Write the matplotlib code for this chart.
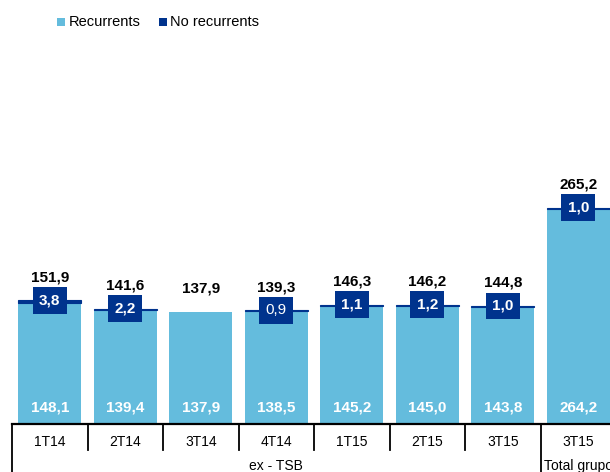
import matplotlib
matplotlib.use("Agg")
import matplotlib.pyplot as plt
from matplotlib.patches import Rectangle

plt.rcParams['font.family'] = ['Liberation Sans', 'DejaVu Sans']

categories = ['1T14', '2T14', '3T14', '4T14', '1T15', '2T15', '3T15', '3T15']
groups = ['ex - TSB', 'Total grupo']
group_sizes = [7, 1]
recurrents = [148.1, 139.4, 137.9, 138.5, 145.2, 145.0, 143.8, 264.2]
no_recurrents = [3.8, 2.2, 0.0, 0.9, 1.1, 1.2, 1.0, 1.0]
totals = [151.9, 141.6, 137.9, 139.3, 146.3, 146.2, 144.8, 265.2]
series_names = ['Recurrents', 'No recurrents']

LIGHT = '#64BCDD'
DARK = '#00338D'

W, H = 610, 472
fig = plt.figure(figsize=(W / 100, H / 100), dpi=100)
px_left, px_right, px_bottom = 12, 616, 424
ax = fig.add_axes([px_left / W, (H - px_bottom) / H, (px_right - px_left) / W, px_bottom / H])
ax.set_xlim(-0.5, len(categories) - 0.5)
ax.set_ylim(0, px_bottom / 0.815)

x = list(range(len(categories)))
bw = 0.83
ax.bar(x, recurrents, width=bw, color=LIGHT, edgecolor='none', zorder=2)
for xi, r, n in zip(x, recurrents, no_recurrents):
    if n > 0:
        ax.bar(xi, n, bottom=r, width=bw, color=DARK, edgecolor=DARK, linewidth=0.8, zorder=3)

for i, (xi, r, n, t) in enumerate(zip(x, recurrents, no_recurrents, totals)):
    lab = lambda v: f"{v:.1f}".replace('.', ',')
    ax.annotate(lab(t), (xi, t), xytext=(0, 23), textcoords='offset pixels',
                ha='center', va='center', fontsize=11, fontweight='bold', color='black', zorder=5)
    ax.annotate(lab(r), (xi, 0), xytext=(0, 17), textcoords='offset pixels',
                ha='center', va='center', fontsize=11, fontweight='bold', color='white', zorder=5)
    if n > 0:
        weight = 'normal' if i == 3 else 'bold'
        ax.annotate(lab(n), (xi, t), xytext=(0, 0), textcoords='offset pixels',
                    ha='center', va='center', fontsize=11, fontweight=weight, color='white', zorder=6,
                    bbox=dict(boxstyle='square,pad=0.42', facecolor=DARK, edgecolor='none'))

for s in ['top', 'right', 'left']:
    ax.spines[s].set_visible(False)
ax.spines['bottom'].set_linewidth(1.6)
ax.set_xticks([])
ax.set_yticks([])

# category separators and labels below axis
trans = ax.get_xaxis_transform()
px = 1 / px_bottom
group_bounds = [-0.5]
acc = -0.5
for g in group_sizes:
    acc += g
    group_bounds.append(acc)
for b in [i - 0.5 for i in range(len(categories) + 1)]:
    if b in group_bounds:
        y0 = -48 * px
    else:
        y0 = -26 * px
    ax.plot([b, b], [0, y0], transform=trans, color='black', lw=1.3, clip_on=False)
for xi, c in zip(x, categories):
    ax.text(xi, -18 * px, c, transform=trans, ha='center', va='center', fontsize=10, color='black')
for gi, g in enumerate(groups):
    center = (group_bounds[gi] + group_bounds[gi + 1]) / 2
    ax.text(center, -42 * px, g, transform=trans, ha='center', va='center', fontsize=10, color='black')

# legend
def fy(ypx):
    return 1 - ypx / H
fig.patches.append(Rectangle((57 / W, fy(26)), 8 / W, 8 / H, transform=fig.transFigure,
                             facecolor=LIGHT, edgecolor='none'))
fig.text(69 / W, fy(21.5), series_names[0], ha='left', va='center', fontsize=10.5)
fig.patches.append(Rectangle((159 / W, fy(26)), 8 / W, 8 / H, transform=fig.transFigure,
                             facecolor=DARK, edgecolor='none'))
fig.text(170 / W, fy(21.5), series_names[1], ha='left', va='center', fontsize=10.5)

fig.savefig('out.png', dpi=100)
